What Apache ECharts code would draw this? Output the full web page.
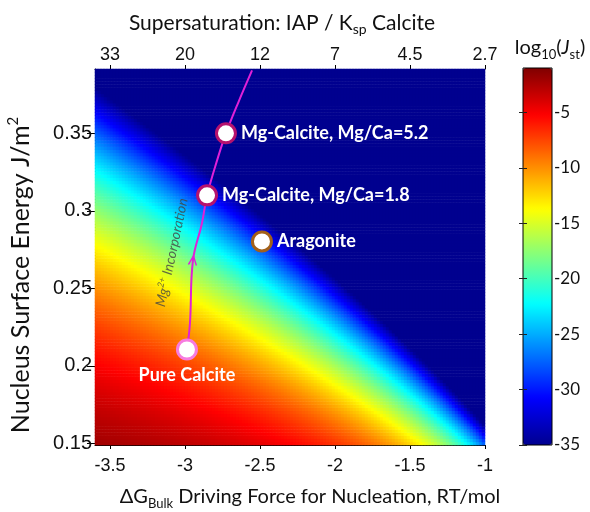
<!DOCTYPE html>
<html><head><meta charset="utf-8">
<script src="https://cdn.jsdelivr.net/npm/echarts@6/dist/echarts.min.js"></script>
<style>html,body{margin:0;padding:0;background:#fff}#c{width:590px;height:512px}</style>
</head><body><div id="c"></div>
<script>
// ---- axis ranges / ticks ----
const dgRange = [-3.6, -1];            // ΔG bulk, RT/mol
const gammaRange = [0.149, 0.3915];    // nucleus surface energy, J/m^2
const dgTicks = [-3.5, -3, -2.5, -2, -1.5, -1];
const supersatLabels = ['33', '20', '12', '7', '4.5', '2.7'];
const gammaTicks = [0.15, 0.2, 0.25, 0.3, 0.35];
const colorRange = [-35, -1];
const colorTicks = [-35, -30, -25, -20, -15, -10, -5];
const logPrefactor = [0];
const cntCoefficient = [8300];
// ---- phases ----
const phaseNames = ['Pure Calcite', 'Mg-Calcite, Mg/Ca=1.8', 'Mg-Calcite, Mg/Ca=5.2', 'Aragonite'];
const phaseDG = [-2.987, -2.853, -2.727, -2.487];
const phaseGamma = [0.2106, 0.31, 0.35, 0.2803];
// ---- Mg2+ incorporation path ----
const pathDG = [-2.987, -2.967, -2.947, -2.887, -2.853, -2.78, -2.727, -2.647, -2.553];
const pathGamma = [0.2106, 0.2274, 0.268, 0.292, 0.31, 0.3345, 0.35, 0.3694, 0.3906];
const arrowAt = [-2.947, 0.268];
const noteAt = [-3.087, 0.2732];

const jet = ['#00008F', '#0000FF', '#0080FF', '#00FFFF', '#80FF80', '#FFFF00', '#FF8000', '#FF0000', '#800000'];

const NX = 130, NY = 121;
const xCats = [], yCats = [], cells = [];
for (let i = 0; i < NX; i++) xCats.push(dgRange[0] + (i + 0.5) * (dgRange[1] - dgRange[0]) / NX);
for (let j = 0; j < NY; j++) yCats.push(gammaRange[0] + (j + 0.5) * (gammaRange[1] - gammaRange[0]) / NY);
for (let i = 0; i < NX; i++) for (let j = 0; j < NY; j++) {
  const g = yCats[j], d = xCats[i];
  let v = logPrefactor[0] - cntCoefficient[0] * g * g * g / (d * d);
  v = Math.max(colorRange[0], Math.min(colorRange[1], v));
  cells.push([i, j, v]);
}

const G = {left: 95, top: 69, width: 390, height: 376, outerBoundsMode: 'none', containLabel: false};
const CB = {left: 523, top: 68, width: 29, height: 377, outerBoundsMode: 'none', containLabel: false};
const tickFont = 'Liberation Sans';
const cal = 'Lato';

const chart = echarts.init(document.getElementById('c'), null, {renderer: 'canvas'});
const phaseBorder = ['#F77BE0', '#B5126E', '#B5126E', '#A2601A'];
const labelPos = ['bottom', 'right', 'right', 'right'];

function titleRich(size, sub, subAlign) {
  return {
    a: {fontFamily: cal, fontSize: size, fill: '#111', lineHeight: size + 6, verticalAlign: 'middle'},
    i: {fontFamily: cal, fontSize: size, fontStyle: 'italic', fill: '#111', lineHeight: size + 6, verticalAlign: 'middle'},
    s: {fontFamily: cal, fontSize: sub, fill: '#111', lineHeight: size + 6, verticalAlign: subAlign}
  };
}

chart.setOption({
  animation: false,
  grid: [
    Object.assign({}, G),
    Object.assign({}, G),
    Object.assign({show: true, borderColor: '#000', borderWidth: 1, backgroundColor: 'transparent', z: 10}, CB)
  ],
  xAxis: [
    {gridIndex: 0, type: 'category', data: xCats, show: false},
    {gridIndex: 1, type: 'value', min: dgRange[0], max: dgRange[1], position: 'bottom',
      axisLine: {lineStyle: {color: '#000'}}, splitLine: {show: false},
      axisTick: {length: 4, inside: false, customValues: dgTicks, lineStyle: {color: '#000'}},
      axisLabel: {customValues: dgTicks, color: '#111', fontFamily: tickFont, fontSize: 18, margin: 12}},
    {gridIndex: 1, type: 'value', min: dgRange[0], max: dgRange[1], position: 'top',
      axisLine: {lineStyle: {color: '#000'}}, splitLine: {show: false},
      axisTick: {length: 4, customValues: dgTicks, lineStyle: {color: '#000'}},
      axisLabel: {customValues: dgTicks, color: '#111', fontFamily: tickFont, fontSize: 18, margin: 5,
        formatter: v => supersatLabels[dgTicks.findIndex(t => Math.abs(t - v) < 1e-6)] || ''}},
    {gridIndex: 2, type: 'value', min: 0, max: 1, show: false}
  ],
  yAxis: [
    {gridIndex: 0, type: 'category', data: yCats, show: false},
    {gridIndex: 1, type: 'value', min: gammaRange[0], max: gammaRange[1], position: 'left',
      axisLine: {show: true, lineStyle: {color: '#000'}}, splitLine: {show: false},
      axisTick: {show: true, length: 8, customValues: gammaTicks, lineStyle: {color: '#000'}},
      axisLabel: {customValues: gammaTicks, color: '#111', fontFamily: tickFont, fontSize: 20, margin: 3}},
    {gridIndex: 2, type: 'value', min: colorRange[0], max: colorRange[1], position: 'right', z: 11,
      axisLine: {show: false}, splitLine: {show: false},
      axisTick: {show: true, inside: true, length: 4, customValues: colorTicks, lineStyle: {color: '#222'}},
      axisLabel: {customValues: colorTicks, color: '#111', fontFamily: cal, fontSize: 17, margin: 2}},
    {gridIndex: 2, type: 'value', min: colorRange[0], max: colorRange[1], position: 'left', z: 11,
      axisLine: {show: false}, splitLine: {show: false},
      axisTick: {show: true, inside: true, length: 4, customValues: colorTicks, lineStyle: {color: '#222'}},
      axisLabel: {show: false}}
  ],
  visualMap: {
    type: 'continuous', seriesIndex: 0, min: colorRange[0], max: colorRange[1],
    calculable: false, hoverLink: false, left: CB.left, top: CB.top, itemWidth: CB.width, itemHeight: CB.height,
    padding: 0, inRange: {color: jet}, z: 2
  },
  graphic: [
    {type: 'text', x: 282, y: 23, z: 20,
      style: {text: '{a|Supersaturation: IAP / K}{s|sp}{a| Calcite}', align: 'center', verticalAlign: 'middle', rich: titleRich(21, 14, 'bottom')}},
    {type: 'text', x: 310, y: 497, z: 20,
      style: {text: '{a|ΔG}{s|Bulk}{a| Driving Force for Nucleation, RT/mol}', align: 'center', verticalAlign: 'middle', rich: titleRich(20, 13, 'bottom')}},
    {type: 'text', x: 21, y: 275, rotation: Math.PI / 2, z: 20,
      style: {text: '{a|Nucleus Surface Energy J/m}{s|2}', align: 'center', verticalAlign: 'middle', rich: titleRich(25, 15, 'top')}},
    {type: 'text', x: 550, y: 48, z: 20,
      style: {text: '{a|log}{s|10}{a|(}{i|J}{s|st}{a|)}', align: 'center', verticalAlign: 'middle', rich: titleRich(20, 13, 'bottom')}}
  ],
  series: [
    {type: 'heatmap', xAxisIndex: 0, yAxisIndex: 0, data: cells, progressive: 0, emphasis: {disabled: true}},
    {type: 'line', xAxisIndex: 1, yAxisIndex: 1, data: pathDG.map((d, k) => [d, pathGamma[k]]),
      smooth: 0.4, showSymbol: false, lineStyle: {color: '#E020D8', width: 2}, z: 5},
    {type: 'scatter', xAxisIndex: 1, yAxisIndex: 1, z: 6,
      data: [{value: arrowAt, symbol: 'path://M0,9 L5,0 L10,9', symbolSize: [8, 9], symbolRotate: -7,
        itemStyle: {color: 'none', borderColor: '#E020D8', borderWidth: 1.5, opacity: 1}}]},
    {type: 'scatter', xAxisIndex: 1, yAxisIndex: 1, z: 7, symbol: 'circle', symbolSize: 19,
      data: phaseNames.map((n, k) => ({name: n, value: [phaseDG[k], phaseGamma[k]],
        itemStyle: {color: '#fff', borderColor: phaseBorder[k], borderWidth: 3, opacity: 1},
        label: {show: true, position: labelPos[k], distance: labelPos[k] === 'bottom' ? 6 : 4, formatter: n,
          color: '#fff', fontFamily: cal, fontWeight: 'bold', fontSize: 18}}))},
    {type: 'scatter', xAxisIndex: 1, yAxisIndex: 1, z: 7, symbolSize: 0,
      data: [{value: noteAt, label: {show: true, position: 'inside', rotate: 78,
        formatter: '{a|Mg}{s|2+}{a| Incorporation}',
        rich: {a: {fontFamily: cal, fontStyle: 'italic', fontSize: 14, color: '#444', lineHeight: 17, verticalAlign: 'middle'},
          s: {fontFamily: cal, fontStyle: 'italic', fontSize: 9, color: '#444', lineHeight: 17, verticalAlign: 'top'}}}}]}
  ]
});
</script></body></html>
